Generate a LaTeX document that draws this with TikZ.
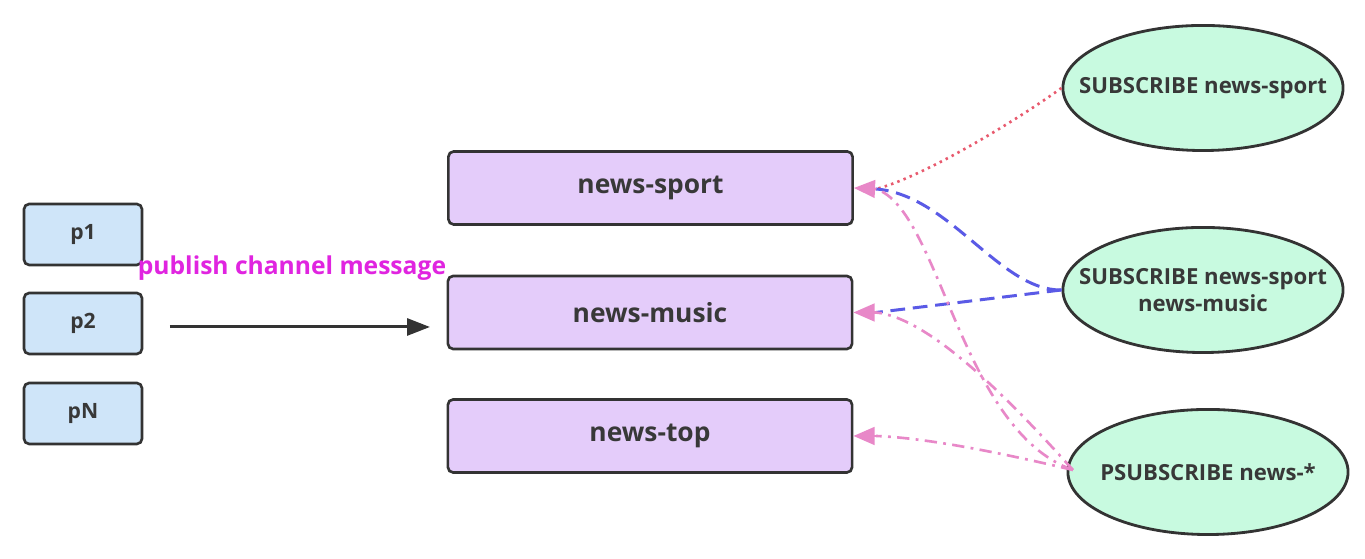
\documentclass[tikz,border=0pt]{standalone}
\usepackage{fontspec}
\setmainfont{Open Sans}
\usetikzlibrary{arrows.meta,shapes.geometric}
\definecolor{pubfill}{HTML}{CFE5F9}
\definecolor{chfill}{HTML}{E4CCFA}
\definecolor{subfill}{HTML}{C8FAE0}
\definecolor{edge}{HTML}{333333}
\definecolor{txt}{HTML}{383838}
\definecolor{lblmag}{HTML}{E024E0}
\definecolor{redl}{HTML}{E85A6E}
\definecolor{bluel}{HTML}{5A5AE6}
\definecolor{pinkl}{HTML}{E888C8}
\begin{document}
\begin{tikzpicture}[x=0.01cm,y=-0.01cm,
  pubbox/.style={draw=edge,line width=0.75pt,fill=pubfill,rounded corners=1.5pt,minimum width=1.18cm,minimum height=0.61cm,inner sep=0pt,font=\fontsize{6}{7}\selectfont\bfseries,text=txt},
  chbox/.style={draw=edge,line width=0.75pt,fill=chfill,rounded corners=1.5pt,minimum width=4.04cm,minimum height=0.73cm,inner sep=0pt,font=\fontsize{7.5}{9}\selectfont\bfseries,text=txt},
  subell/.style={draw=edge,line width=0.8pt,fill=subfill,ellipse,minimum width=2.8cm,minimum height=1.25cm,inner sep=0pt},
  subtxt/.style={font=\fontsize{6.3}{7.5}\selectfont\bfseries,text=txt,align=center,inner sep=0pt},
  pinktip/.style={-{Triangle[length=6pt,width=5pt]},color=pinkl,line width=0.75pt},
  dotline/.style={draw=redl,line width=0.75pt,dash pattern=on 0.7pt off 1.2pt},
  dashline/.style={draw=bluel,line width=0.85pt,dash pattern=on 4.2pt off 2.2pt},
  dashdotline/.style={draw=pinkl,line width=0.75pt,dash pattern=on 3.5pt off 1.8pt on 0.8pt off 1.8pt},
  pubarrow/.style={draw=edge,line width=0.85pt,-{Triangle[length=6.5pt,width=4.8pt]}}
]
\useasboundingbox[fill=white] (0,0) rectangle (1365,559);

% publishers
\node[pubbox] (p1) at (83,234.5) {p1};
\node[pubbox] (p2) at (83,323.5) {p2};
\node[pubbox] (pN) at (83,413.5) {pN};

% channels
\node[chbox] (sport) at (650.5,188) {news-sport};
\node[chbox] (music) at (650,312.5) {news-music};
\node[chbox] (top) at (650,436) {news-top};

% publish arrow
\coordinate (pa) at (170,327);
\coordinate (pb) at (430,327);
\draw[pubarrow] (pa) -- (pb);
\node[font=\fontsize{7}{8}\selectfont\bfseries,text=lblmag,inner sep=0pt] (lbl) at (292,268) {publish channel message};

% subscribers
\node[subell] (s1) at (1203,88) {};
\node[subtxt] (s1t) at (s1) {SUBSCRIBE news-sport};
\node[subell] (s2) at (1203,290) {};
\node[subtxt] (s2t) at (s2) {SUBSCRIBE news-sport\\news-music};
\node[subell] (s3) at (1208,472) {};
\node[subtxt] (s3t) at (s3) {PSUBSCRIBE news-*};

% connector end points
\coordinate (sportIn) at (876,189);
\coordinate (musicIn) at (876,312.5);
\coordinate (topIn) at (876,436);
\coordinate (s3out) at (1073,470);

% red dotted: s1 -> sport
\draw[dotline] (s1.west) .. controls (1010,125) and (920,178) .. (sportIn);
% blue dashed: s2 -> sport, s2 -> music
\draw[dashline] (s2.west) .. controls (1000,291) and (950,195) .. (sportIn);
\draw[dashline] (s2.west) -- (musicIn);
% pink dash-dot: s3 -> sport, music, top
\draw[dashdotline] (s3out) .. controls (960,430) and (940,210) .. (sportIn);
\draw[dashdotline] (s3out) .. controls (1010,400) and (930,318) .. (musicIn);
\draw[dashdotline] (s3out) .. controls (1010,455) and (930,438) .. (topIn);

% arrowheads (pink)
\draw[pinktip] (sportIn) -- (sport.east);
\draw[pinktip] (musicIn) -- (music.east);
\draw[pinktip] (topIn) -- (top.east);
\end{tikzpicture}
\end{document}
